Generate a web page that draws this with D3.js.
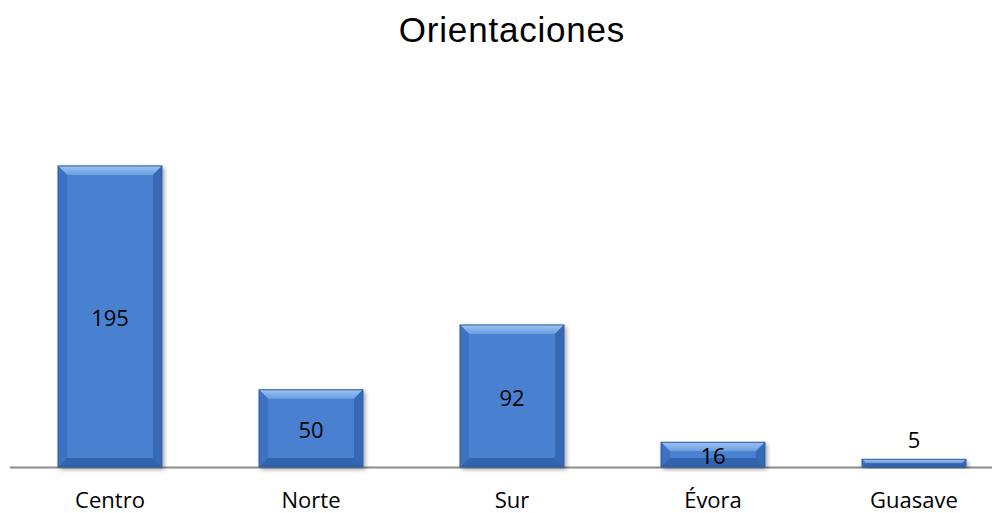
<!DOCTYPE html>
<html>
<head>
<meta charset="utf-8">
<script src="https://cdn.jsdelivr.net/npm/d3@7"></script>
<style>
  body { margin: 0; background: #fff; }
  svg { display: block; }
</style>
</head>
<body>
<div id="chart"></div>
<script>
// data
const categories = ['Centro', 'Norte', 'Sur', 'Évora', 'Guasave']
const values = [195, 50, 92, 16, 5]
const title = 'Orientaciones'

const W = 1000, H = 513
const svg = d3.select('#chart').append('svg')
    .attr('width', W).attr('height', H)

const x = d3.scaleBand()
    .domain(categories)
    .range([9.5, 1014.5])
    .paddingInner(0.483)
    .paddingOuter(0.2415)

const y = d3.scaleLinear()
    .domain([0, 250])
    .range([467, 81])

const defs = svg.append('defs')
const filt = defs.append('filter').attr('id', 'shadow')
    .attr('x', '-10%').attr('y', '-10%').attr('width', '130%').attr('height', '130%')
filt.append('feGaussianBlur').attr('in', 'SourceAlpha').attr('stdDeviation', 2)
filt.append('feOffset').attr('dx', 2).attr('dy', 2).attr('result', 'b')
filt.append('feComponentTransfer').append('feFuncA').attr('type', 'linear').attr('slope', 0.35)
const merge = filt.append('feMerge')
merge.append('feMergeNode')
merge.append('feMergeNode').attr('in', 'SourceGraphic')

// top bevel gradient
const tg = defs.append('linearGradient').attr('id', 'topBevel')
    .attr('x1', 0).attr('y1', 0).attr('x2', 0).attr('y2', 1)
tg.append('stop').attr('offset', '0%').attr('stop-color', '#9cc4f2')
tg.append('stop').attr('offset', '100%').attr('stop-color', '#6b9de0')

// title
svg.append('text')
    .attr('x', 512).attr('y', 42)
    .attr('text-anchor', 'middle')
    .style('font-family', 'Liberation Sans, Arial, sans-serif')
    .style('font-size', '35px')
    .style('letter-spacing', '0.8px')
    .text(title)

// baseline
svg.append('line')
    .attr('x1', 10).attr('x2', 992)
    .attr('y1', y(0) + 0.5).attr('y2', y(0) + 0.5)
    .attr('stroke', '#8c8c8c').attr('stroke-width', 2)

const bw = x.bandwidth()
const g = svg.selectAll('g.bar').data(values).enter().append('g')
    .attr('class', 'bar')
    .attr('filter', 'url(#shadow)')

g.each(function(d, i) {
    const el = d3.select(this)
    const x0 = x(categories[i]), x1 = x0 + bw
    const y0 = y(d), y1 = y(0)
    const b = Math.min(9, (y1 - y0) / 2)
    el.append('rect')
        .attr('x', x0).attr('y', y0)
        .attr('width', bw).attr('height', y1 - y0)
        .attr('fill', '#4a80d0')
    // top bevel
    el.append('polygon')
        .attr('points', [[x0, y0], [x1, y0], [x1 - b, y0 + b], [x0 + b, y0 + b]].join(' '))
        .attr('fill', 'url(#topBevel)')
    // left bevel
    el.append('polygon')
        .attr('points', [[x0, y0], [x0 + b, y0 + b], [x0 + b, y1 - b], [x0, y1]].join(' '))
        .attr('fill', '#3e72c2')
    // right bevel
    el.append('polygon')
        .attr('points', [[x1, y0], [x1 - b, y0 + b], [x1 - b, y1 - b], [x1, y1]].join(' '))
        .attr('fill', '#3668b5')
    // bottom bevel
    el.append('polygon')
        .attr('points', [[x0, y1], [x0 + b, y1 - b], [x1 - b, y1 - b], [x1, y1]].join(' '))
        .attr('fill', '#3363ad')
    el.append('rect')
        .attr('x', x0).attr('y', y0)
        .attr('width', bw).attr('height', y1 - y0)
        .attr('fill', 'none').attr('stroke', '#2d5a9e').attr('stroke-width', 1)
})

// value labels
svg.selectAll('text.val').data(values).enter().append('text')
    .attr('class', 'val')
    .attr('x', (d, i) => x(categories[i]) + bw / 2)
    .attr('y', d => {
        const h = y(0) - y(d)
        return h < 15 ? y(d) - 19 : (y(d) + y(0)) / 2 + 2
    })
    .attr('dy', '0.35em')
    .attr('text-anchor', 'middle')
    .style('font-family', 'Open Sans, sans-serif')
    .style('font-size', '22px')
    .attr('fill', '#000')
    .text(d => d)

// category labels
svg.selectAll('text.cat').data(categories).enter().append('text')
    .attr('class', 'cat')
    .attr('x', d => x(d) + bw / 2)
    .attr('y', 508)
    .attr('text-anchor', 'middle')
    .style('font-family', 'Open Sans, sans-serif')
    .style('font-size', '22px')
    .text(d => d)
</script>
</body>
</html>
